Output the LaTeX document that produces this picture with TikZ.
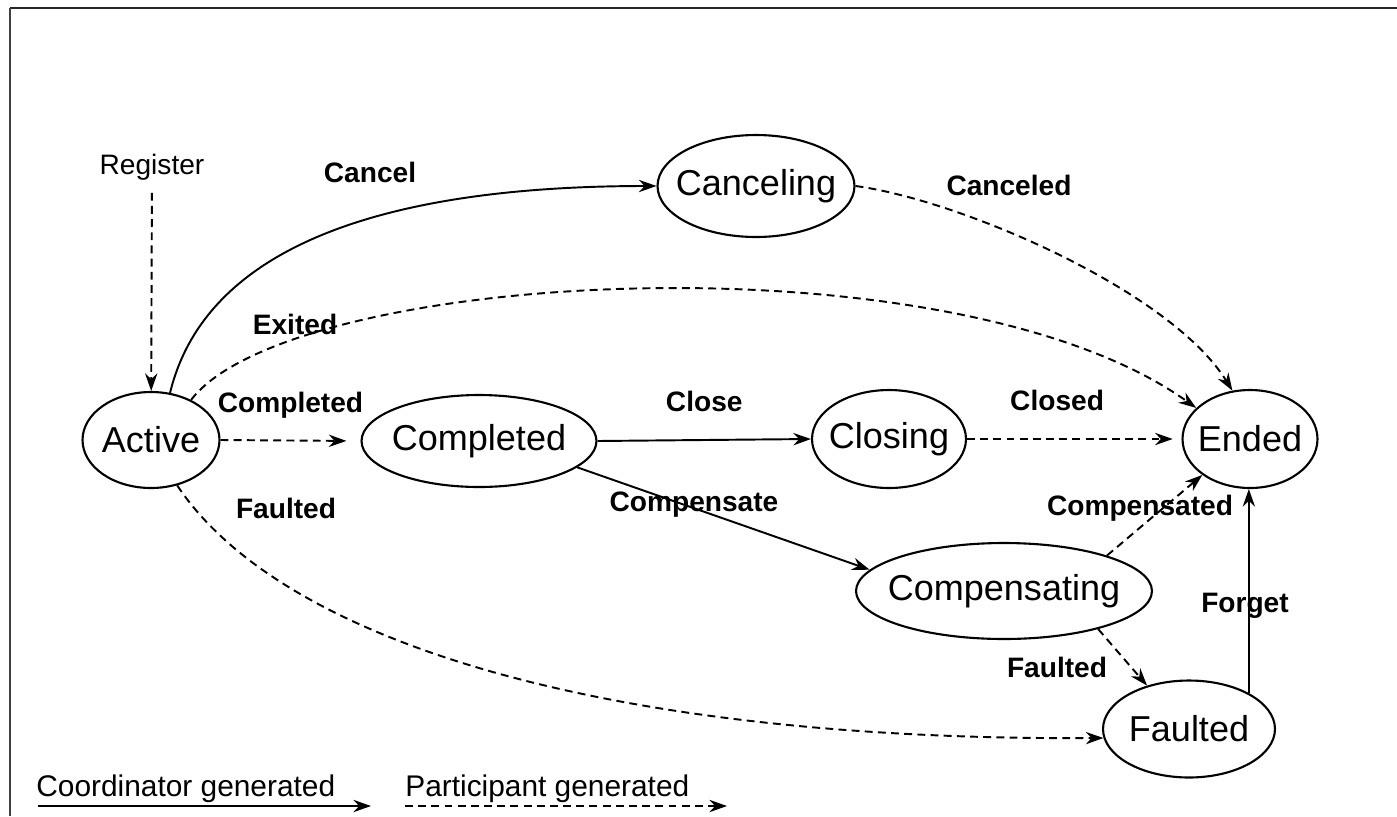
\documentclass[tikz,border=0pt]{standalone}
\usepackage{fontspec}
\setmainfont{Liberation Sans}
\usetikzlibrary{shapes.geometric,arrows.meta,positioning}
\tikzset{
  stateNode/.style={
    ellipse,
    draw=black,
    line width=1.2pt,
    inner sep=0pt,
    font=\fontsize{20.5}{24}\selectfont
  },
  edgeLabel/.style={
    inner sep=0pt,
    font=\fontsize{16}{19}\selectfont\bfseries
  },
  arrowLine/.style={
    -{Stealth[length=10pt,width=7pt]},
    line width=1.1pt
  },
  dashLine/.style={
    arrowLine,
    dash pattern=on 4.5pt off 3pt
  },
  legendText/.style={
    inner sep=0pt,
    font=\fontsize{17}{20}\selectfont
  },
  frameLine/.style={
    line width=1.4pt,
    draw=black!75
  }
}
\newcommand{\stateName}[1]{\makebox[0pt]{#1}}

\begin{document}
\begin{tikzpicture}[x=0.02cm, y=-0.02cm]
    \useasboundingbox (0,0) rectangle (1397,816);
    \draw[frameLine, draw=black!85] (10,8) -- (1397,8);
    \draw[frameLine] (10,8) -- (10,816);

    % states
    \node[stateNode, minimum width=2.74cm, minimum height=1.92cm] (active) at (151,440) {\stateName{Active}};
    \node[stateNode, minimum width=4.70cm, minimum height=1.84cm] (completed) at (479,441) {\stateName{Completed}};
    \node[stateNode, minimum width=3.08cm, minimum height=1.96cm] (closing) at (889,439) {\stateName{Closing}};
    \node[stateNode, minimum width=2.70cm, minimum height=1.96cm] (ended) at (1250,439) {\stateName{Ended}};
    \node[stateNode, minimum width=3.94cm, minimum height=2.04cm] (canceling) at (756,186) {\stateName{Canceling}};
    \node[stateNode, minimum width=5.92cm, minimum height=1.92cm] (compensating) at (1004,591) {\stateName{Compensating}};
    \node[stateNode, minimum width=3.44cm, minimum height=1.94cm] (faulted) at (1189,729) {\stateName{Faulted}};
    \node[inner sep=3pt, font=\fontsize{16}{19}\selectfont] (register) at (152,167) {Register};

    % transitions
    \draw[dashLine, shorten <=4pt] (register) -- (active);
    \draw[arrowLine] (active.68) .. controls +(35,-144) and +(-278,0) .. (canceling.west);
    \draw[dashLine] (canceling.east) .. controls (960,200) and (1170,290) .. (ended.110);
    \draw[dashLine] (active.45) .. controls (290,270) and (950,232) .. (ended.150);
    \draw[dashLine] (active.-60) .. controls (280,640) and (600,741) .. (faulted.186);
    \draw[dashLine, shorten >=8pt] (active.east) -- node[edgeLabel, anchor=base, yshift=16pt] (lblCompleted) {Completed} (completed.west);
    \draw[arrowLine] (completed.east) -- node[edgeLabel, anchor=base, yshift=16pt] (lblClose) {Close} (closing.west);
    \draw[dashLine, shorten >=5pt] (closing.east) -- node[edgeLabel, pos=0.42, anchor=base, yshift=16pt] (lblClosed) {Closed} (ended.west);
    \draw[arrowLine] (completed.-15) -- (compensating.171);
    \draw[dashLine] (compensating.19) -- (ended.217);
    \draw[dashLine] (compensating.-22) -- (faulted.134);
    \draw[arrowLine] (faulted.31) -- (faulted.31 |- ended.south);

    % labels
    \node[edgeLabel] (lblCancel) at (370,172) {Cancel};
    \node[edgeLabel] (lblCanceled) at (1009,185) {Canceled};
    \node[edgeLabel] (lblExited) at (295,324) {Exited};
    \node[edgeLabel] (lblFaultedA) at (286,508) {Faulted};
    \node[edgeLabel] (lblCompensate) at (694,505) {Compensate};
    \node[edgeLabel] (lblCompensated) at (1140,508) {Compensated};
    \node[edgeLabel] (lblFaultedB) at (1057,667) {Faulted};
    \node[edgeLabel] (lblForget) at (1245,606) {Forget};

    % legend
    \node[legendText, anchor=base west] (legCoord) at (36,796) {Coordinator generated};
    \node[legendText, anchor=base west] (legPart) at (405,796) {Participant generated};
    \coordinate (coordStart) at (38,806);
    \coordinate (coordEnd) at (371,806);
    \coordinate (partStart) at (405,806);
    \coordinate (partEnd) at (727,806);
    \draw[arrowLine] (coordStart) -- (coordEnd);
    \draw[dashLine] (partStart) -- (partEnd);
\end{tikzpicture}
\end{document}
